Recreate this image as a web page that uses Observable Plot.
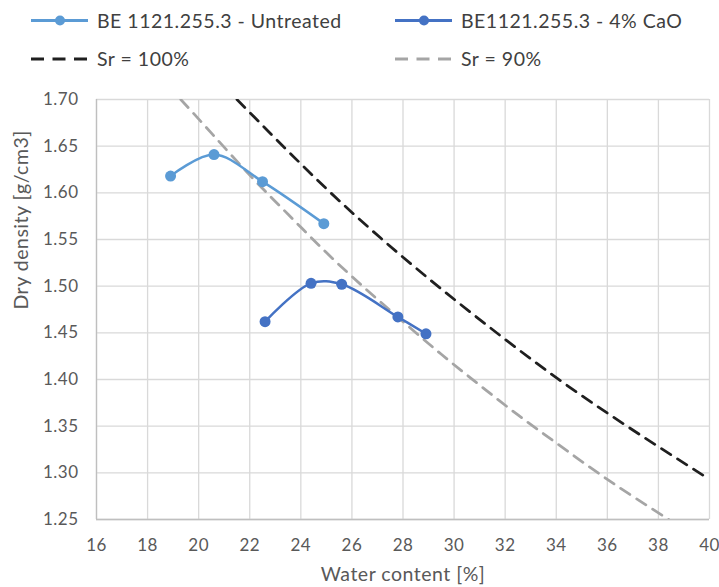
<!DOCTYPE html>
<html><head><meta charset="utf-8">
<script src="https://cdn.jsdelivr.net/npm/d3@7"></script>
<script src="https://cdn.jsdelivr.net/npm/@observablehq/plot@0.6"></script>
<style>
body{margin:0;background:#fff;font-family:Lato,"Noto Sans",sans-serif;}
#wrap{position:relative;width:719px;height:587px;}
#legend{position:absolute;left:0;top:0;width:719px;height:85px;}
#legend svg{position:absolute;left:0;top:0;}
#chart{position:absolute;left:0;top:85px;}
</style></head>
<body><div id="wrap"><div id="legend"></div><div id="chart"></div></div>
<script>
const untreatedW = [18.9, 20.6, 22.5, 24.9];
const untreatedD = [1.618, 1.641, 1.612, 1.567];
const caoW = [22.6, 24.4, 25.6, 27.8, 28.9];
const caoD = [1.462, 1.503, 1.502, 1.467, 1.449];
const sr100W = [21.5, 24, 26, 28, 30, 32, 34, 36, 38, 40];
const sr100D = [1.700, 1.631, 1.579, 1.531, 1.486, 1.443, 1.402, 1.364, 1.328, 1.293];
const sr90W = [19.3, 20.5, 22, 23.5, 25, 26.5, 28, 29.5, 31, 32.5, 34, 36, 38.4];
const sr90D = [1.700, 1.664, 1.619, 1.577, 1.536, 1.498, 1.462, 1.427, 1.394, 1.362, 1.332, 1.293, 1.250];
const xTicks = [16,18,20,22,24,26,28,30,32,34,36,38,40];
const yTicks = [1.25,1.30,1.35,1.40,1.45,1.50,1.55,1.60,1.65,1.70];
const seriesNames = ["BE 1121.255.3 - Untreated","BE1121.255.3 - 4% CaO","Sr = 100%","Sr = 90%"];
const colors = ["#5B9BD5","#4472C4","#1f1f1f","#A5A5A5"];
const xLabel = "Water content [%]";
const yLabel = "Dry density [g/cm3]";

const toRows = (ws, ds) => ws.map((w,i)=>({w, d: ds[i]}));
const untreated = toRows(untreatedW, untreatedD);
const cao = toRows(caoW, caoD);
const sr100 = toRows(sr100W, sr100D);
const sr90 = toRows(sr90W, sr90D);

const FONT = "Lato, 'Noto Sans', sans-serif";
const chart = Plot.plot({
  width: 719, height: 502,
  marginLeft: 96, marginRight: 10, marginTop: 14, marginBottom: 68,
  style: {fontFamily: FONT, fontSize: "17px", color: "#595959", background: "#fff", letterSpacing: "0.5px"},
  x: {domain: [16, 40], ticks: xTicks},
  y: {domain: [1.25, 1.70], ticks: yTicks},
  marks: [
    Plot.gridX(xTicks, {stroke: "#D9D9D9", strokeOpacity: 1, strokeWidth: 1.3}),
    Plot.gridY(yTicks, {stroke: "#D9D9D9", strokeOpacity: 1, strokeWidth: 1.3}),
    Plot.ruleX([16], {stroke: "#BFBFBF", strokeWidth: 1.3}),
    Plot.ruleY([1.25], {stroke: "#BFBFBF", strokeWidth: 1.3}),
    Plot.axisX(xTicks, {tickSize: 0, tickPadding: 19, fill: "#595959", fontSize: 17, label: null}),
    Plot.axisY(yTicks, {tickSize: 0, tickPadding: 18, fill: "#595959", fontSize: 17, tickFormat: d3.format(".2f"), label: null}),
    Plot.text([xLabel], {frameAnchor: "bottom", dy: 55, text: d => d, fill: "#595959", fontSize: 19.5, lineAnchor: "middle"}),
    Plot.text([yLabel], {frameAnchor: "left", dx: -75, rotate: -90, text: d => d, fill: "#595959", fontSize: 19.5, lineAnchor: "middle"}),
    Plot.line(sr90, {x: "w", y: "d", stroke: colors[3], strokeWidth: 2.75, strokeDasharray: "11,8", curve: "natural", clip: true}),
    Plot.line(sr100, {x: "w", y: "d", stroke: colors[2], strokeWidth: 2.75, strokeDasharray: "11,8", curve: "natural", clip: true}),
    Plot.line(untreated, {x: "w", y: "d", stroke: colors[0], strokeWidth: 2.5, curve: "catmull-rom"}),
    Plot.dot(untreated, {x: "w", y: "d", r: 5.5, fill: colors[0]}),
    Plot.line(cao, {x: "w", y: "d", stroke: colors[1], strokeWidth: 2.5, curve: "catmull-rom"}),
    Plot.dot(cao, {x: "w", y: "d", r: 5.5, fill: colors[1]})
  ]
});
document.getElementById("chart").appendChild(chart);

// legend
const lg = d3.select("#legend").append("svg").attr("width", 719).attr("height", 85);
const items = [
  {x: 31, y: 20.5, i: 0, dash: null, dot: true},
  {x: 395, y: 20.5, i: 1, dash: null, dot: true},
  {x: 31, y: 59, i: 2, dash: "13,8.5", dot: false},
  {x: 395, y: 59, i: 3, dash: "13,8.5", dot: false}
];
items.forEach(it => {
  const g = lg.append("g");
  g.append("line").attr("x1", it.x).attr("x2", it.x + 57).attr("y1", it.y).attr("y2", it.y)
    .attr("stroke", colors[it.i]).attr("stroke-width", 3)
    .attr("stroke-dasharray", it.dash);
  if (it.dot) g.append("circle").attr("cx", it.x + 29).attr("cy", it.y).attr("r", 5).attr("fill", colors[it.i]);
  g.append("text").attr("x", it.x + 66).attr("y", it.y).attr("dy", "0.36em")
    .attr("font-size", 19.5).attr("letter-spacing", "0.5px").attr("fill", "#404040").attr("font-family", FONT)
    .text(seriesNames[it.i]);
});
</script></body></html>
